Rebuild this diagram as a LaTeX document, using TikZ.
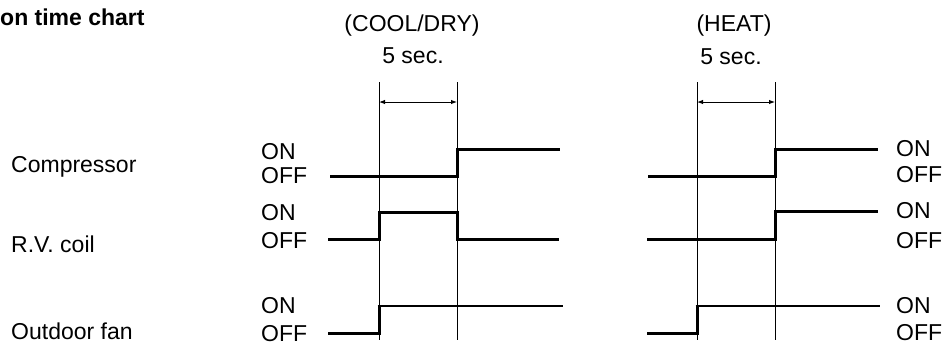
\documentclass[tikz,border=0pt]{standalone}
\usepackage{fontspec}
\setmainfont{Liberation Sans}
\usetikzlibrary{arrows.meta}
\begin{document}
\begin{tikzpicture}[x=1bp,y=-1bp,
  lbl/.style={inner sep=0pt,font=\fontsize{23bp}{27bp}\selectfont},
  ttl/.style={inner sep=0pt,font=\fontsize{23bp}{27bp}\selectfont\bfseries},
  sig/.style={line width=3bp,line join=miter,line cap=butt},
  sigthin/.style={line width=2.8bp,line cap=butt},
  marker/.style={line width=1bp},
  dim/.style={line width=1bp,{Latex[length=6bp,width=4.5bp]}-{Latex[length=6bp,width=4.5bp]}}]
\useasboundingbox (0,0) rectangle (944,345);
% title and headings
\node[ttl,anchor=base west] (title) at (0,25) {on time chart};
\node[lbl,anchor=base] (cool) at (412,31) {(COOL/DRY)};
\node[lbl,anchor=base] (heat) at (734,31) {(HEAT)};
\node[lbl,anchor=base] (secA) at (413,63) {5 sec.};
\node[lbl,anchor=base] (secB) at (731,64) {5 sec.};
% row names
\node[lbl,anchor=base west] (comp) at (11,172) {Compressor};
\node[lbl,anchor=base west] (rv) at (11,252) {R.V. coil};
\node[lbl,anchor=base west] (fan) at (11,339) {Outdoor fan};
% ON/OFF left
\node[lbl,anchor=base west] (onA1) at (261,159) {ON};
\node[lbl,anchor=base west] (offA1) at (261,183) {OFF};
\node[lbl,anchor=base west] (onA2) at (261,220) {ON};
\node[lbl,anchor=base west] (offA2) at (261,248) {OFF};
\node[lbl,anchor=base west] (onA3) at (261,313) {ON};
\node[lbl,anchor=base west] (offA3) at (261,341) {OFF};
% ON/OFF right
\node[lbl,anchor=base west] (onB1) at (896,156) {ON};
\node[lbl,anchor=base west] (offB1) at (896,182) {OFF};
\node[lbl,anchor=base west] (onB2) at (896,218) {ON};
\node[lbl,anchor=base west] (offB2) at (896,248) {OFF};
\node[lbl,anchor=base west] (onB3) at (896,313) {ON};
\node[lbl,anchor=base west] (offB3) at (896,340) {OFF};
% marker lines
\coordinate (a1t) at (379,82); \coordinate (a1b) at (379,340);
\coordinate (a2t) at (457,82); \coordinate (a2b) at (457,340);
\coordinate (b1t) at (697,82); \coordinate (b1b) at (697,340);
\coordinate (b2t) at (775,82); \coordinate (b2b) at (775,340);
\draw[marker] (a1t) -- (a1b);
\draw[marker] (a2t) -- (a2b);
\draw[marker] (b1t) -- (b1b);
\draw[marker] (b2t) -- (b2b);
\coordinate (da1) at (379,102); \coordinate (da2) at (457,102);
\coordinate (db1) at (697,102); \coordinate (db2) at (775,102);
\draw[dim] (da1) -- (da2);
\draw[dim] (db1) -- (db2);
% COOL/DRY signals
\draw[sig] (330,176) -- (457,176) -- (457,149) -- (560,149);
\draw[sig] (328,239) -- (379,239) -- (379,212) -- (457,212) -- (457,239) -- (559,239);
\draw[sig] (328,333) -- (379,333) -- (379,306);
\draw[sigthin] (377.6,306) -- (563,306);
% HEAT signals
\draw[sig] (648,176) -- (775,176) -- (775,149) -- (878,149);
\draw[sig] (647,239) -- (775,239) -- (775,211) -- (878,211);
\draw[sig] (647,333) -- (697,333) -- (697,306);
\draw[sigthin] (695.6,306) -- (880,306);
\end{tikzpicture}
\end{document}
